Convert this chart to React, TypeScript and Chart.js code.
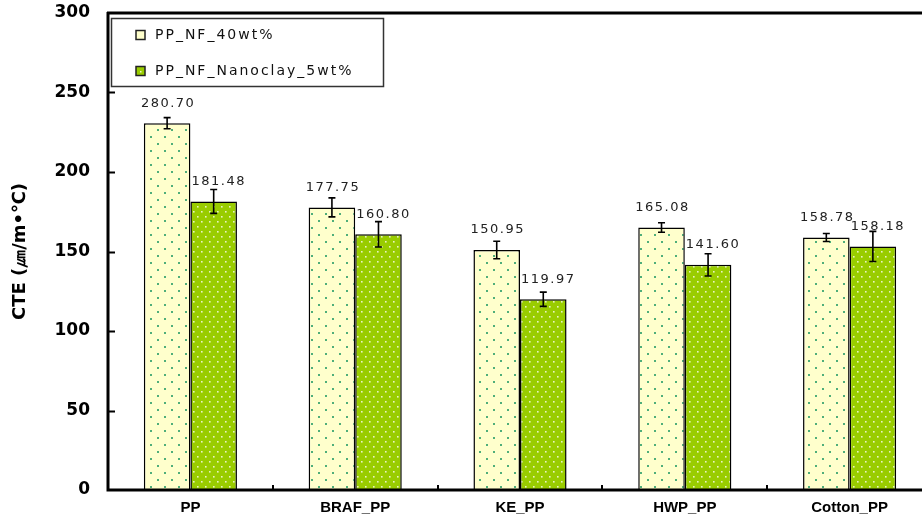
import React, { useEffect, useRef } from 'react';
import { Chart, registerables } from 'chart.js';

Chart.register(...registerables);

const categories = ['PP', 'BRAF_PP', 'KE_PP', 'HWP_PP', 'Cotton_PP'];
const seriesNames = ['PP_NF_40wt%', 'PP_NF_Nanoclay_5wt%'];
const nf40Values = [230.7, 177.75, 150.95, 165.08, 158.78];
const nanoclayValues = [181.48, 160.8, 119.97, 141.6, 153.18];
const nf40Errors = [3.5, 6, 5.5, 3, 2.5];
const nanoclayErrors = [7.5, 8, 4.5, 7, 9.5];
const nf40Labels = ['280.70', '177.75', '150.95', '165.08', '158.78'];
const nanoclayLabels = ['181.48', '160.80', '119.97', '141.60', '158.18'];
const yTickValues = [0, 50, 100, 150, 200, 250, 300];
const yTitle = 'CTE (㎛/m•℃)';

const errorsBySeries = [nf40Errors, nanoclayErrors];
const labelsBySeries = [nf40Labels, nanoclayLabels];

function makePattern(bg: string, dot: string, w: number, h: number, dots: number[][], size: number) {
  const c = document.createElement('canvas');
  c.width = w;
  c.height = h;
  const g = c.getContext('2d')!;
  g.fillStyle = bg;
  g.fillRect(0, 0, w, h);
  g.fillStyle = dot;
  dots.forEach(([x, y]) => g.fillRect(x, y, size, size));
  return g.createPattern(c, 'repeat')!;
}

const overlayPlugin = {
  id: 'overlay',
  afterDatasetsDraw(chart: any) {
    const ctx = chart.ctx;
    const ys = chart.scales.y;
    ctx.save();
    chart.data.datasets.forEach((ds: any, di: number) => {
      const meta = chart.getDatasetMeta(di);
      meta.data.forEach((el: any, i: number) => {
        const v = ds.data[i];
        const e = errorsBySeries[di][i];
        const top = ys.getPixelForValue(v + e);
        const bot = ys.getPixelForValue(v - e);
        ctx.strokeStyle = '#000';
        ctx.lineWidth = 1.6;
        ctx.beginPath();
        ctx.moveTo(el.x, top);
        ctx.lineTo(el.x, bot);
        ctx.moveTo(el.x - 3.5, top);
        ctx.lineTo(el.x + 3.5, top);
        ctx.moveTo(el.x - 3.5, bot);
        ctx.lineTo(el.x + 3.5, bot);
        ctx.stroke();
      });
    });
    ctx.font = '13px "DejaVu Sans"';
    (ctx as any).letterSpacing = '1.5px';
    ctx.fillStyle = '#222';
    ctx.textAlign = 'center';
    ctx.textBaseline = 'middle';
    chart.data.datasets.forEach((ds: any, di: number) => {
      const meta = chart.getDatasetMeta(di);
      meta.data.forEach((el: any, i: number) => {
        ctx.fillText(labelsBySeries[di][i], el.x + (di === 1 ? 5 : 1), el.y - 20);
      });
    });
    ctx.restore();
  },
  afterDraw(chart: any) {
    const ctx = chart.ctx;
    const { left, right, top, bottom } = chart.chartArea;
    const ys = chart.scales.y;
    const xs = chart.scales.x;
    ctx.save();
    ctx.strokeStyle = '#000';
    ctx.lineWidth = 3;
    ctx.beginPath();
    ctx.moveTo(left - 1, top);
    ctx.lineTo(right + 10, top);
    ctx.moveTo(left, top - 1);
    ctx.lineTo(left, bottom + 1.5);
    ctx.moveTo(left - 1, bottom);
    ctx.lineTo(right + 10, bottom);
    ctx.stroke();
    ctx.lineWidth = 2;
    ctx.beginPath();
    yTickValues.slice(1, -1).forEach((v) => {
      const y = Math.round(ys.getPixelForValue(v)) + 0.5;
      ctx.moveTo(left, y);
      ctx.lineTo(left + 7, y);
    });
    for (let i = 1; i <= categories.length; i++) {
      const x = Math.round((xs.getPixelForValue(i - 1) + xs.getPixelForValue(i)) / 2);
      ctx.moveTo(x, bottom);
      ctx.lineTo(x, bottom - 5);
    }
    ctx.stroke();
    const lx = 111, ly = 18, lw = 272, lh = 68;
    ctx.fillStyle = '#fff';
    ctx.fillRect(lx, ly, lw, lh);
    ctx.strokeStyle = '#333';
    ctx.lineWidth = 1.5;
    ctx.strokeRect(lx + 0.5, ly + 0.5, lw, lh);
    const rows = [35, 71];
    chart.data.datasets.forEach((ds: any, di: number) => {
      const cy = rows[di];
      ctx.fillStyle = ds.legendFill;
      ctx.fillRect(136, cy - 4.5, 9, 9);
      if (di === 1) {
        ctx.fillStyle = '#eef6c8';
        ctx.fillRect(140, cy, 1.5, 1.5);
      }
      ctx.strokeStyle = '#222';
      ctx.lineWidth = 1.5;
      ctx.strokeRect(136, cy - 4.5, 9, 9);
      ctx.fillStyle = '#111';
      ctx.font = '14px "DejaVu Sans"';
      (ctx as any).letterSpacing = '2px';
      ctx.textAlign = 'left';
      ctx.textBaseline = 'middle';
      ctx.fillText(ds.label, 155, cy);
    });
    ctx.restore();
  },
};

export default function App() {
  const ref = useRef<HTMLCanvasElement>(null);
  useEffect(() => {
    const yellow = makePattern('#ffffcc', '#4fae7a', 14, 14, [[3, 3], [10, 10]], 2);
    const green = makePattern('#99cc00', '#e8f4c0', 8, 10, [[1, 1], [5, 6]], 1.6);
    const chart = new Chart(ref.current!, {
      type: 'bar',
      data: {
        labels: categories,
        datasets: [
          {
            label: seriesNames[0],
            data: nf40Values,
            backgroundColor: yellow,
            borderColor: '#000',
            borderWidth: 1.5,
            categoryPercentage: 0.565,
            barPercentage: 1,
            legendFill: '#ffffcc',
          } as any,
          {
            label: seriesNames[1],
            data: nanoclayValues,
            backgroundColor: green,
            borderColor: '#000',
            borderWidth: 1.5,
            categoryPercentage: 0.565,
            barPercentage: 1,
            legendFill: '#99cc00',
          } as any,
        ],
      },
      options: {
        responsive: false,
        animation: false,
        layout: { padding: { top: 13, right: 8, bottom: 0, left: 0 } },
        plugins: { legend: { display: false }, tooltip: { enabled: false } },
        scales: {
          x: {
            grid: { display: false, drawTicks: false },
            border: { display: false },
            ticks: {
              padding: 9,
              color: '#000',
              font: { family: '"Liberation Sans"', weight: 'bold', size: 15 },
            },
            afterFit: (s: any) => {
              s.height = 40;
              s.paddingLeft = 0;
              s.paddingRight = 0;
            },
          },
          y: {
            min: 0,
            max: 300,
            afterBuildTicks: (s: any) => {
              s.ticks = yTickValues.map((v) => ({ value: v }));
            },
            grid: { display: false, drawTicks: false },
            border: { display: false },
            ticks: {
              padding: 18,
              color: '#000',
              font: { family: '"DejaVu Sans"', weight: 'bold', size: 17 },
            },
            title: {
              display: true,
              text: yTitle,
              color: '#000',
              padding: { top: 10, bottom: 0 },
              font: { family: '"DejaVu Sans"', weight: 'bold', size: 18 },
            },
            afterFit: (s: any) => {
              s.width = 108;
              s.paddingTop = 0;
              s.paddingBottom = 0;
            },
          },
        },
      },
      plugins: [overlayPlugin],
    });
    return () => chart.destroy();
  }, []);
  return (
    <div style={{ position: 'fixed', left: 0, top: 0, width: 922, height: 530, overflow: 'hidden', background: '#fff' }}>
      <canvas ref={ref} width={940} height={530} style={{ display: 'block', width: 940, height: 530 }} />
    </div>
  );
}
